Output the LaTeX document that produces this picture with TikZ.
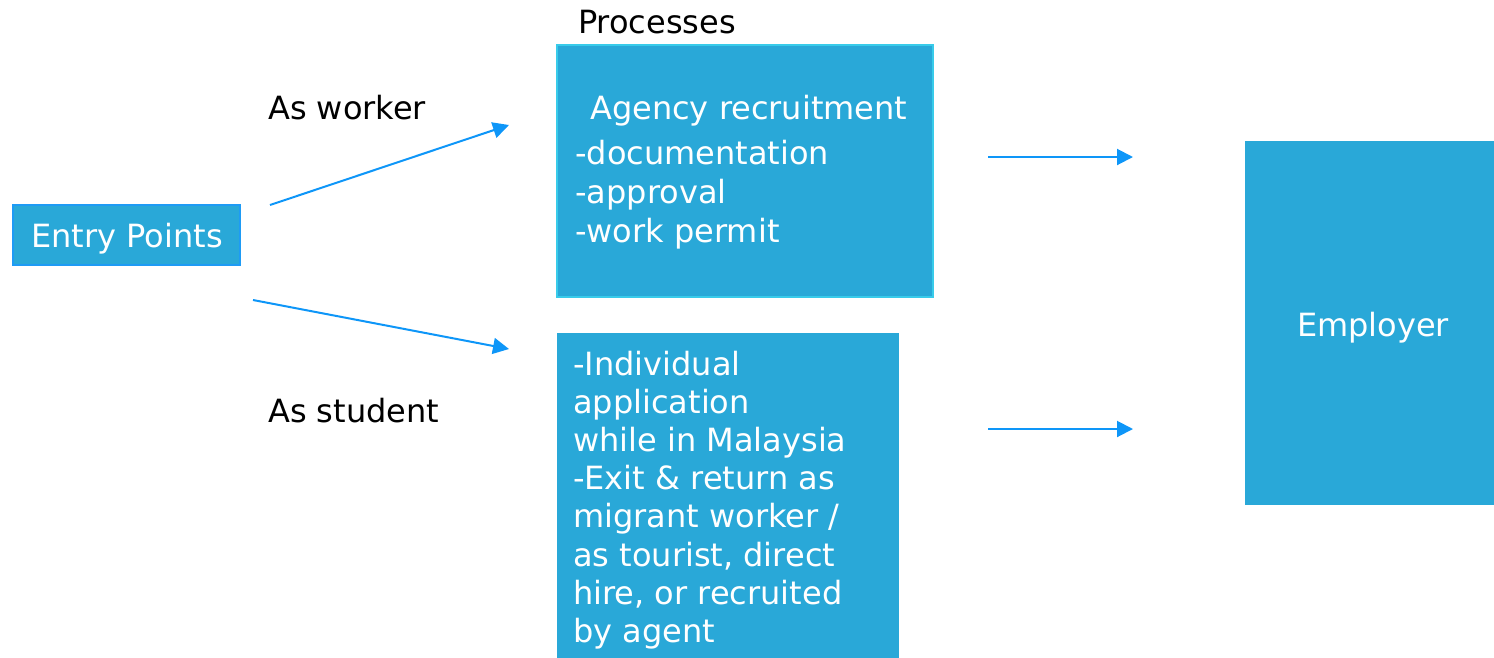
\documentclass[tikz,border=0pt]{standalone}
\usepackage{fontspec}
\setmainfont{DejaVu Sans}
\usetikzlibrary{arrows.meta}
\definecolor{boxfill}{HTML}{29A8D8}
\definecolor{arrowblue}{HTML}{0E96F8}
\definecolor{entryedge}{HTML}{1E9BF5}
\definecolor{procedge}{HTML}{38CBEA}
\begin{document}
\begin{tikzpicture}[x=1pt,y=-1pt,
  panel/.style={fill=boxfill, inner sep=0pt, outer sep=0pt, anchor=north west},
  boxtext/.style={text=white, inner sep=0pt, anchor=base west, font=\fontsize{32}{38.5}\selectfont},
  plaintext/.style={text=black, inner sep=0pt, anchor=base west, font=\fontsize{32}{38.5}\selectfont},
  flow/.style={draw=arrowblue, line width=2pt, -{Triangle[length=16pt,width=16pt]}}
]
\useasboundingbox (0,0) rectangle (1494,657);

% boxes
\node[panel, draw=entryedge, line width=1.5pt, minimum width=227pt, minimum height=60pt] (entry) at (13,205) {};
\node[panel, draw=procedge, line width=1.5pt, minimum width=376pt, minimum height=252pt] (agencybox) at (557,45) {};
\node[panel, minimum width=342pt, minimum height=326pt] (indivbox) at (557,333) {};
\node[panel, minimum width=249pt, minimum height=364pt] (employer) at (1245,141) {};

% box texts
\node[boxtext, anchor=base] (entrytext) at (127,247) {Entry Points};
\node[boxtext] (agency) at (590,119) {Agency recruitment};
\node[boxtext] (steps) at (575,164) {\parbox[t]{340pt}{\raggedright\baselineskip=39pt
  -documentation\\-approval\\-work permit}};
\node[boxtext] (indiv) at (573,375) {\parbox[t]{330pt}{\raggedright\baselineskip=38.2pt
  -Individual\\application\\while in Malaysia\\-Exit \& return as\\migrant worker /\\as tourist, direct\\hire, or recruited\\by agent}};
\node[boxtext, anchor=base] (employertext) at (1373,336) {Employer};

% captions
\node[plaintext] (processes) at (578,33) {Processes};
\node[plaintext] (asworker) at (268,119) {As worker};
\node[plaintext] (asstudent) at (268,422) {As student};

% connector ends
\coordinate (w0) at (270,205);
\coordinate (w1) at (509,125);
\coordinate (s0) at (253,300);
\coordinate (s1) at (509,349);
\coordinate (a0) at (988,157);
\coordinate (a1) at (1133,157);
\coordinate (b0) at (988,429);
\coordinate (b1) at (1133,429);

% connectors
\draw[flow] (w0) -- (w1);
\draw[flow] (s0) -- (s1);
\draw[flow] (a0) -- (a1);
\draw[flow] (b0) -- (b1);
\end{tikzpicture}
\end{document}
